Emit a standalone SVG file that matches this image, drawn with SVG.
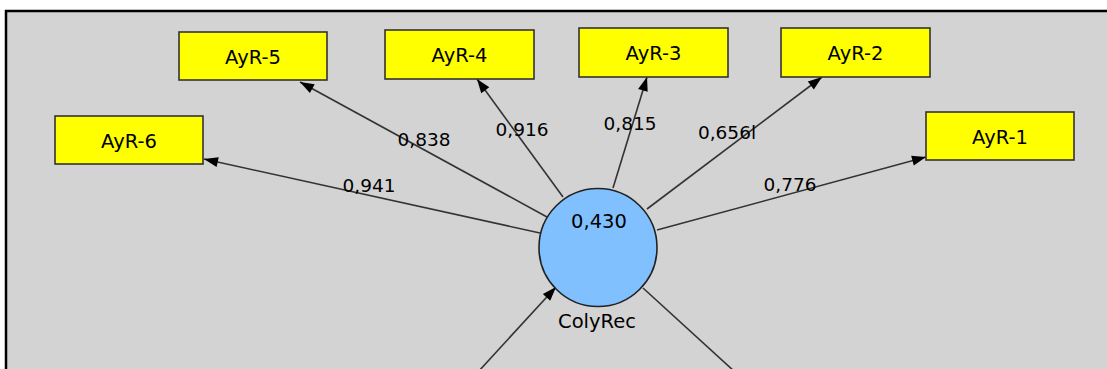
<svg xmlns="http://www.w3.org/2000/svg" width="1107" height="369" viewBox="0 0 1107 369">
  <style>
    .ind rect { fill: #ffff00; stroke: #333333; stroke-width: 1.6; }
    .ind text, .lv text { font-family: "DejaVu Sans", Verdana, sans-serif; font-size: 19.5px; fill: #000; text-anchor: middle; }
    .edge { stroke: #333333; stroke-width: 1.6; fill: none; }
    .w { font-family: "DejaVu Sans", Verdana, sans-serif; font-size: 18.5px; fill: #000; text-anchor: middle; }
  </style>
  <defs>
    <marker id="arrow" markerUnits="userSpaceOnUse" markerWidth="16" markerHeight="12" viewBox="0 0 16 12" refX="15" refY="6" orient="auto">
      <path d="M1,1 L15,6 L1,11 Z" fill="#000"/>
    </marker>
  </defs>

  <!-- canvas -->
  <rect x="0" y="0" width="1107" height="369" fill="#ffffff"/>
  <rect x="6" y="11" width="1110" height="370" fill="#d3d3d3" stroke="#000" stroke-width="2.5"/>

  <!-- loadings -->
  <g id="connectors">
    <line class="edge" x1="540" y1="233" x2="204" y2="159" marker-end="url(#arrow)"/>
    <line class="edge" x1="547" y1="217" x2="300" y2="82" marker-end="url(#arrow)"/>
    <line class="edge" x1="563" y1="197" x2="477" y2="79" marker-end="url(#arrow)"/>
    <line class="edge" x1="613" y1="188" x2="647" y2="77" marker-end="url(#arrow)"/>
    <line class="edge" x1="647" y1="209" x2="822" y2="77" marker-end="url(#arrow)"/>
    <line class="edge" x1="657" y1="230" x2="926" y2="157" marker-end="url(#arrow)"/>
    <line class="edge" x1="478" y1="372" x2="556" y2="287" marker-end="url(#arrow)"/>
    <line class="edge" x1="643" y1="288" x2="735" y2="372"/>
    <text class="w" x="369" y="192">0,941</text>
    <text class="w" x="424" y="146">0,838</text>
    <text class="w" x="522" y="136">0,916</text>
    <text class="w" x="630" y="130">0,815</text>
    <text class="w" x="727" y="139">0,656l</text>
    <text class="w" x="790" y="191">0,776</text>
  </g>

  <g id="ColyRec" class="lv">
    <circle cx="598" cy="247.5" r="59" fill="#80c0ff" stroke="#222" stroke-width="1.6"/>
    <text x="599" y="228">0,430</text>
    <text x="597" y="328">ColyRec</text>
  </g>

  <g id="AyR-6" class="ind"><rect x="55" y="116" width="148" height="48"/><text x="129" y="148">AyR-6</text></g>
  <g id="AyR-5" class="ind"><rect x="179" y="32" width="148" height="48"/><text x="253" y="64">AyR-5</text></g>
  <g id="AyR-4" class="ind"><rect x="385" y="30" width="149" height="49"/><text x="459.5" y="62">AyR-4</text></g>
  <g id="AyR-3" class="ind"><rect x="579" y="28" width="149" height="49"/><text x="653.5" y="60">AyR-3</text></g>
  <g id="AyR-2" class="ind"><rect x="781" y="28" width="149" height="49"/><text x="855.5" y="60">AyR-2</text></g>
  <g id="AyR-1" class="ind"><rect x="926" y="112" width="148" height="48"/><text x="1000" y="144">AyR-1</text></g>
</svg>
